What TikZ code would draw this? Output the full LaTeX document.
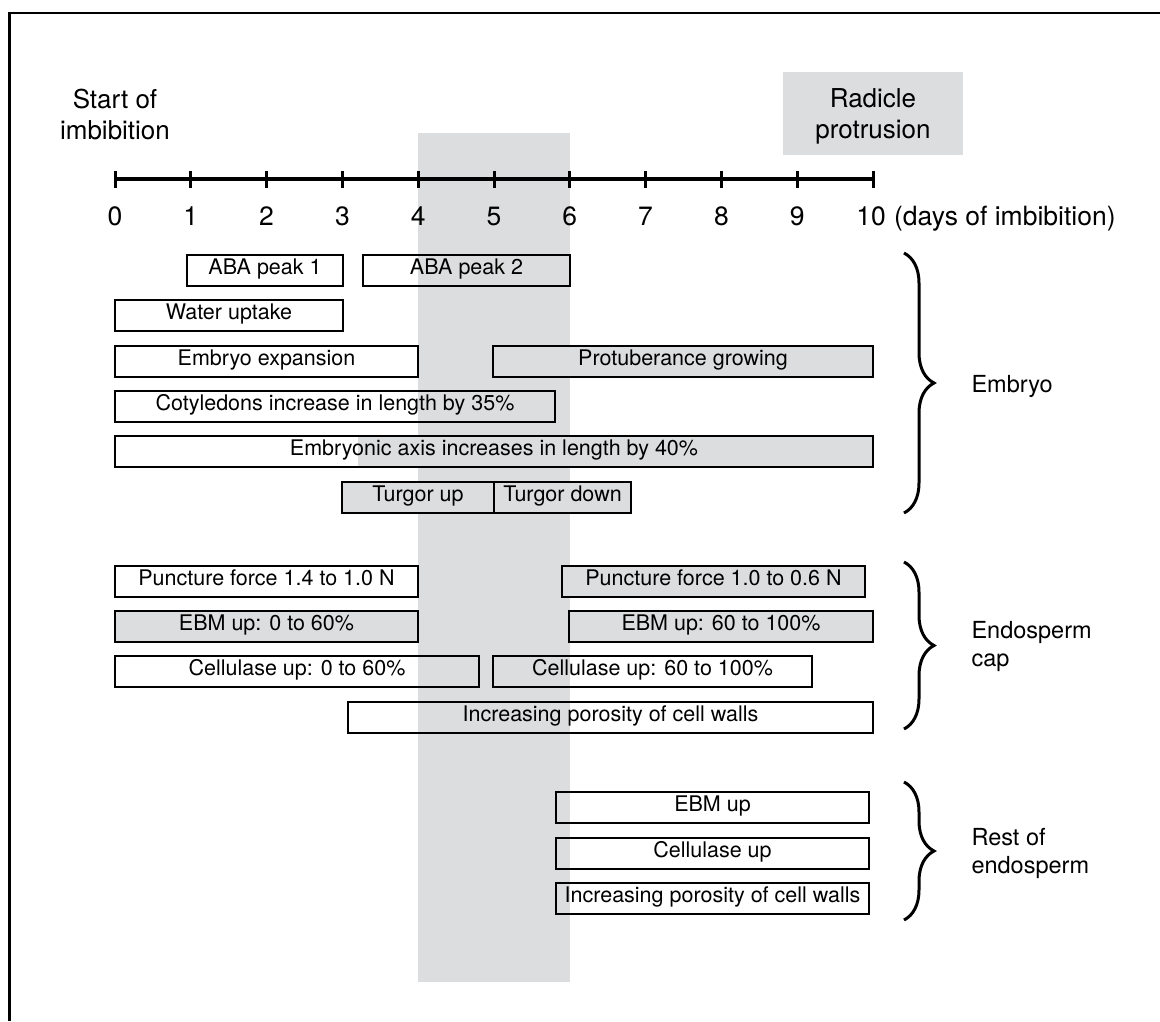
\documentclass[tikz,border=0pt]{standalone}
\usepackage{fontspec}
\setmainfont{TeX Gyre Heros}
\usepackage{tikz}
\usetikzlibrary{arrows,calc,positioning,decorations.pathreplacing}
\definecolor{bandgray}{RGB}{220,221,222}

\begin{document}
\begin{tikzpicture}[x=1pt,y=-1pt,
		bar/.style={draw, line width=2.2pt, minimum height=31pt, inner sep=0pt, text height=0.72em, text depth=0pt, font=\fontsize{21.5}{25}\selectfont},
		shaded/.style={bar, fill=bandgray},
		day/.style={inner sep=0pt, text height=0.71em, text depth=0pt, font=\fontsize{26.5}{31}\selectfont},
		group/.style={anchor=west, align=left, font=\fontsize{23.5}{28}\selectfont},
		curly/.style={decorate, decoration={brace, amplitude=30pt}, line width=3pt}]
				\useasboundingbox (0,0) rectangle (1160,1021);
				\draw[line width=2.5pt] (9.5,1021) -- (9.5,13) -- (1160,13);
				\fill[bandgray] (418,133) rectangle (570,982); %window
				\fill[bandgray] (783,72) rectangle (963,155); %radicle
				\node (start) [align=center, font=\fontsize{26}{31}\selectfont] at (115,114.5) {Start of\\imbibition};
				\node (radicle) [align=center, font=\fontsize{26}{31}\selectfont] at (873,116.5) {Radicle\\protrusion};
				\coordinate (a0) at (115,179);
				\coordinate (a10) at (873,179);
				\draw[line width=3.5pt] (a0) -- (a10);
				\draw[line width=3pt] (115,171) to (115,188);
				\draw[line width=3pt] (190.8,171) to (190.8,188);
				\draw[line width=3pt] (266.6,171) to (266.6,188);
				\draw[line width=3pt] (342.4,171) to (342.4,188);
				\draw[line width=3pt] (418.2,171) to (418.2,188);
				\draw[line width=3pt] (494,171) to (494,188);
				\draw[line width=3pt] (569.8,171) to (569.8,188);
				\draw[line width=3pt] (645.6,171) to (645.6,188);
				\draw[line width=3pt] (721.4,171) to (721.4,188);
				\draw[line width=3pt] (797.2,171) to (797.2,188);
				\draw[line width=3pt] (873,171) to (873,188);
				\node (n0) [day] at (115,221.5) {0};
				\node (n1) [day] at (190.8,221.5) {1};
				\node (n2) [day] at (266.6,221.5) {2};
				\node (n3) [day] at (342.4,221.5) {3};
				\node (n4) [day] at (418.2,221.5) {4};
				\node (n5) [day] at (494,221.5) {5};
				\node (n6) [day] at (569.8,221.5) {6};
				\node (n7) [day] at (645.6,221.5) {7};
				\node (n8) [day] at (721.4,221.5) {8};
				\node (n9) [day] at (797.2,221.5) {9};
				\node (n10) [day] at (871,221.5) {10};
				\node (unit) [day, right=8pt of n10] {(days of imbibition)};
				% embryo
				\fill[bandgray] (358,436) rectangle (873,467);
				\node (aba1) [bar, minimum width=156pt] at (265,270.5) {ABA peak 1};
				\node (aba2) [bar, minimum width=207pt] at (466.5,270.5) {ABA peak 2};
				\node (water) [bar, minimum width=228pt] at (229,315.5) {Water uptake};
				\node (expand) [bar, minimum width=303pt] at (266.5,361.5) {Embryo expansion};
				\node (protub) [shaded, minimum width=380pt] at (683,361.5) {Protuberance growing};
				\node (cotyl) [bar, minimum width=440pt] at (335,406.5) {Cotyledons increase in length by 35\%};
				\node (axis) [bar, minimum width=758pt] at (494,451.5) {Embryonic axis increases in length by 40\%};
				\node (tup) [shaded, minimum width=152pt] at (418,497.5) {Turgor up};
				\node (tdown) [shaded, minimum width=137pt] at (562.5,497.5) {Turgor down};
				% endosperm cap
				\node (punct1) [bar, minimum width=303pt] at (266.5,581.5) {Puncture force 1.4 to 1.0 N};
				\node (punct2) [shaded, minimum width=303pt] at (713.5,581.5) {Puncture force 1.0 to 0.6 N};
				\node (ebm1) [shaded, minimum width=303pt] at (266.5,626.5) {EBM up: 0 to 60\%};
				\node (ebm2) [shaded, minimum width=304pt] at (721,626.5) {EBM up: 60 to 100\%};
				\node (cell1) [bar, minimum width=364pt] at (297,671.5) {Cellulase up: 0 to 60\%};
				\node (cell2) [bar, minimum width=319pt] at (652.5,671.5) {Cellulase up: 60 to 100\%};
				\node (poros) [bar, minimum width=525pt] at (610.5,717.5) {Increasing porosity of cell walls};
				% rest of endosperm
				\node (rebm) [bar, minimum width=313pt] at (712.5,807.5) {EBM up};
				\node (rcell) [bar, minimum width=313pt] at (712.5,853.5) {Cellulase up};
				\node (rporos) [bar, minimum width=313pt] at (712.5,898.5) {Increasing porosity of cell walls};
				\draw[curly] (904,253) -- (904,513); %embryo
				\draw[curly] (904,562) -- (904,729); %cap
				\draw[curly] (904,782) -- (904,920); %rest
				\node (embryo) [group] at (968,386) {Embryo};
				\node (cap) [group] at (968,646.8) {Endosperm\\cap};
				\node (rest) [group] at (968,853.7) {Rest of\\endosperm};
\end{tikzpicture}
\end{document}
